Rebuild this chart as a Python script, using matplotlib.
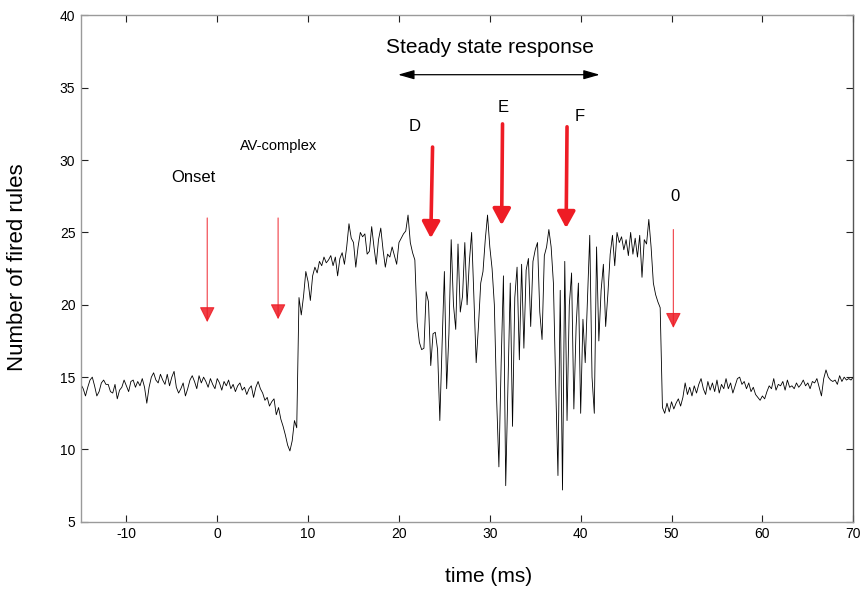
import matplotlib
matplotlib.use('Agg')
import matplotlib.pyplot as plt
import numpy as np

plt.rcParams['font.family'] = ['Liberation Sans', 'DejaVu Sans']
plt.rcParams['axes.unicode_minus'] = False

# sampled response, one value every 0.25 ms from -15 ms to 70 ms
t_start = -15.0
t_step = 0.25
fired_rules = [
    14.5, 14.2, 13.7, 14.3, 14.8, 15.0, 14.4, 13.7, 14.0, 14.6, 14.8, 14.5, 14.5, 14.0, 13.9, 14.5, 13.5, 14.1, 14.3, 14.8,
    14.4, 14.0, 14.7, 14.8, 14.3, 14.7, 14.4, 14.9, 14.3, 13.2, 14.3, 15.0, 15.3, 14.8, 14.6, 15.2, 14.8, 14.5, 15.2, 14.4,
    15.0, 15.4, 14.3, 13.9, 14.2, 14.6, 13.7, 14.2, 14.8, 15.1, 14.7, 14.2, 15.1, 14.6, 15.0, 14.7, 14.3, 14.9, 14.5, 14.2,
    14.9, 14.6, 14.1, 14.7, 14.4, 14.8, 14.2, 14.5, 14.0, 14.4, 14.6, 14.1, 14.3, 13.8, 14.2, 14.4, 13.6, 14.3, 14.7, 14.2,
    13.9, 13.4, 13.6, 13.0, 13.3, 13.5, 12.4, 12.9, 12.1, 11.6, 11.0, 10.3, 9.9, 10.6, 12.0, 11.5, 20.5, 19.3, 20.6, 22.3,
    21.6, 20.3, 22.0, 22.6, 22.2, 23.0, 22.7, 23.3, 22.9, 23.1, 23.4, 22.7, 23.3, 22.0, 23.2, 23.6, 22.8, 24.0, 25.6, 24.6,
    24.3, 22.6, 24.0, 25.0, 24.7, 24.9, 23.5, 23.7, 25.4, 24.0, 22.8, 24.5, 25.3, 23.8, 22.6, 23.5, 23.3, 24.0, 23.4, 22.8,
    24.3, 24.6, 24.9, 25.1, 26.2, 24.3, 23.6, 23.1, 18.8, 17.4, 16.9, 17.0, 20.9, 20.2, 15.8, 18.0, 18.1, 16.9, 12.0, 17.3,
    22.3, 14.2, 18.0, 24.5, 20.0, 18.3, 24.2, 19.5, 20.6, 24.3, 20.0, 23.0, 25.0, 20.4, 16.0, 18.5, 21.5, 22.3, 24.5, 26.2,
    24.0, 22.5, 20.0, 13.5, 8.8, 16.0, 22.0, 7.5, 14.5, 21.5, 11.6, 20.5, 22.6, 16.2, 22.8, 17.0, 22.4, 23.2, 18.5, 23.0,
    23.8, 24.3, 19.5, 17.6, 23.4, 24.0, 25.2, 24.0, 21.5, 14.5, 8.2, 21.0, 7.2, 23.0, 12.0, 20.0, 22.2, 12.8, 18.5, 21.5,
    12.5, 19.0, 16.0, 20.5, 24.8, 15.0, 12.5, 24.0, 17.5, 21.0, 22.8, 18.5, 20.8, 23.5, 24.8, 22.7, 25.0, 24.3, 24.7, 23.8,
    24.5, 23.4, 25.0, 23.5, 24.6, 23.3, 24.8, 21.9, 24.5, 24.2, 25.9, 24.0, 21.5, 20.7, 20.2, 19.8, 12.9, 12.5, 13.2, 12.6,
    13.3, 12.8, 13.2, 13.5, 13.0, 13.6, 14.6, 13.8, 14.3, 13.7, 14.4, 13.9, 14.5, 14.9, 14.2, 13.8, 14.7, 14.1, 14.6, 14.0,
    14.8, 13.9, 14.5, 14.2, 14.9, 14.2, 14.6, 13.9, 14.4, 14.9, 15.0, 14.5, 14.7, 14.2, 14.6, 14.0, 14.3, 13.8, 13.6, 13.4,
    13.7, 13.5, 14.0, 14.4, 14.2, 14.9, 14.1, 14.5, 14.4, 14.7, 14.1, 14.8, 14.3, 14.4, 14.2, 14.6, 14.3, 14.5, 14.8, 14.4,
    14.6, 14.2, 14.7, 14.6, 14.9, 14.3, 13.7, 14.9, 15.5, 15.0, 14.8, 14.7, 14.8, 14.5, 15.1, 14.7, 15.0, 14.8, 14.9, 14.8,
    15.0,
]
time_ms = t_start + t_step * np.arange(len(fired_rules))

# event markers: label, label position, arrow start and arrow tip
thin_labels = ['Onset', 'AV-complex', '0']
thin_label_pos = [(-2.6, 28.8), (6.8, 31.0), (50.4, 27.5)]
thin_arrow_x = [-1.1, 6.7, 50.2]
thin_arrow_top = [26.0, 26.0, 25.2]
thin_arrow_tip = [18.8, 19.0, 18.4]

thick_labels = ['D', 'E', 'F']
thick_label_pos = [(21.7, 32.3), (31.5, 33.6), (39.9, 33.0)]
thick_arrow_x = [(23.7, 23.5), (31.4, 31.3), (38.5, 38.4)]
thick_arrow_top = [30.9, 32.5, 32.3]
thick_arrow_tip = [24.6, 25.5, 25.3]

steady_span = (19.9, 42.1)

RED = '#ee1c25'

fig = plt.figure(figsize=(8.61, 5.91), dpi=100)
ax = fig.add_axes([0.094, 0.117, 0.897, 0.857])

ax.plot(time_ms, fired_rules, color='black', linewidth=0.6)

ax.set_xlim(-15, 70)
ax.set_ylim(5, 40)
ax.set_xticks(np.arange(-10, 71, 10))
ax.set_yticks(np.arange(5, 41, 5))
ax.tick_params(direction='in', length=5, width=0.8, labelsize=10, pad=4,
               top=True, right=True, colors='#222222')
ax.tick_params(axis='both', labelcolor='black')
for side in ['left', 'top', 'bottom']:
    ax.spines[side].set_color('#9a9a9a')
ax.spines['right'].set_color('#555555')
for sp in ax.spines.values():
    sp.set_linewidth(1.0)

ax.set_xlabel('time (ms)', fontsize=15)
ax.xaxis.set_label_coords(0.528, -0.108)
ax.xaxis.label.set_verticalalignment('center')
ax.set_ylabel('Number of fired rules', fontsize=16)
ax.yaxis.set_label_coords(-0.082, 0.502)
ax.yaxis.label.set_verticalalignment('center')

# thin event arrows
for lab, pos, x, y0, y1 in zip(thin_labels, thin_label_pos, thin_arrow_x,
                               thin_arrow_top, thin_arrow_tip):
    fs = 10.5 if lab == 'AV-complex' else 12
    ax.text(pos[0], pos[1], lab, ha='center', va='center', fontsize=fs)
    ax.annotate('', xy=(x, y1), xytext=(x, y0),
                arrowprops=dict(arrowstyle='-|>,head_length=0.5,head_width=0.25',
                                color=RED, lw=0.8, mutation_scale=19,
                                shrinkA=0, shrinkB=0, alpha=0.85))

# thick event arrows
for lab, pos, xs, y0, y1 in zip(thick_labels, thick_label_pos, thick_arrow_x,
                                thick_arrow_top, thick_arrow_tip):
    ax.text(pos[0], pos[1], lab, ha='center', va='center', fontsize=12)
    ax.annotate('', xy=(xs[1], y1), xytext=(xs[0], y0),
                arrowprops=dict(arrowstyle='-|>,head_length=0.55,head_width=0.3',
                                color=RED, lw=2.6, mutation_scale=18,
                                shrinkA=0, shrinkB=0))

# steady state span
ax.text(30.0, 37.8, 'Steady state response', ha='center', va='center', fontsize=15)
ax.annotate('', xy=(steady_span[1], 35.9), xytext=(steady_span[0], 35.9),
            arrowprops=dict(arrowstyle='<|-|>,head_length=0.7,head_width=0.2',
                            color='black', lw=0.9, mutation_scale=14,
                            shrinkA=0, shrinkB=0))

plt.savefig('out.png', dpi=100, facecolor='white')
